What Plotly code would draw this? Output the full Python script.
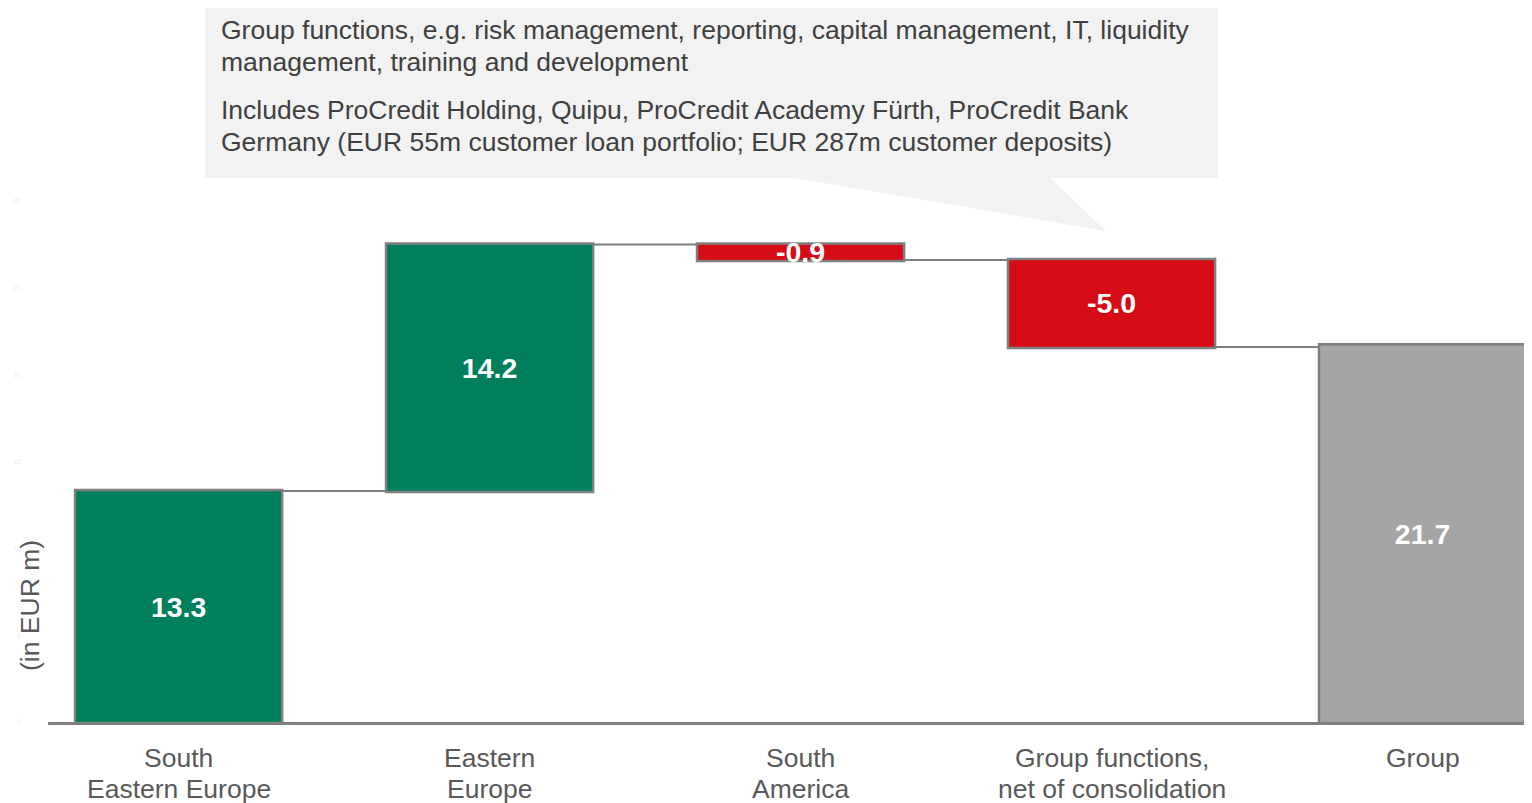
import plotly.graph_objects as go

categories = [["South", "Eastern Europe"], ["Eastern", "Europe"], ["South", "America"],
              ["Group functions,", "net of consolidation"], ["Group"]]
values = [13.3, 14.2, -0.9, -5.0, 21.7]
measures = ["relative", "relative", "relative", "relative", "absolute"]
labels = ["13.3", "14.2", "-0.9", "-5.0", "21.7"]
y_ticks = [0, 5, 10, 15, 20, 25, 30]

callout_lines = [
    "Group functions, e.g. risk management, reporting, capital management, IT, liquidity",
    "management, training and development",
    "Includes ProCredit Holding, Quipu, ProCredit Academy Fürth, ProCredit Bank",
    "Germany (EUR 55m customer loan portfolio; EUR 287m customer deposits)",
]
callout_line_y = [30, 62, 110, 142]
category_line_y = [758, 789]

# the page body adds an 8px margin around the figure; work in page pixels
OFF = 8
W, H = 1532, 803
PLOT_L, PLOT_R, PLOT_T, PLOT_B = 48, 1532, 201, 722   # page coords of plot area
L = PLOT_L - OFF
T = PLOT_T - OFF
R = W - (PLOT_R - OFF)
B = H - (PLOT_B - OFF)
PW, PH = PLOT_R - PLOT_L, PLOT_B - PLOT_T

def px(x):
    return (x - PLOT_L) / PW

def py(y):
    return (PLOT_B - y) / PH

FONT = "Liberation Sans, Arial, sans-serif"
FS = 26.5
OUTLINE = "#7f7f7f"

x_idx = list(range(len(values)))

fig = go.Figure()
fig.add_trace(go.Waterfall(
    x=x_idx,
    y=values,
    measure=measures,
    text=labels,
    textposition="inside",
    insidetextanchor="middle",
    constraintext="none",
    textfont=dict(family=FONT, size=28.5, color="white", weight="bold"),
    increasing=dict(marker=dict(color="#007f5c", line=dict(color=OUTLINE, width=2.5))),
    decreasing=dict(marker=dict(color="#d50c15", line=dict(color=OUTLINE, width=2.5))),
    totals=dict(marker=dict(color="#a5a5a5", line=dict(color=OUTLINE, width=2.5))),
    connector=dict(mode="between", line=dict(color=OUTLINE, width=2)),
    hoverinfo="skip",
))

# callout box with pointer
box = dict(x0=205, x1=1218, y0=5, y1=178)
path = (f"M {px(box['x0'])},{py(box['y0'])} L {px(box['x1'])},{py(box['y0'])} "
        f"L {px(box['x1'])},{py(box['y1'])} L {px(1050)},{py(box['y1'])} "
        f"L {px(1106)},{py(231)} L {px(795)},{py(box['y1'])} "
        f"L {px(box['x0'])},{py(box['y1'])} Z")
fig.add_shape(type="path", path=path, xref="paper", yref="paper",
              fillcolor="#f2f2f2", line=dict(width=0), layer="below")

for line, ly in zip(callout_lines, callout_line_y):
    fig.add_annotation(x=px(219), y=py(ly), xref="paper", yref="paper",
                       xanchor="left", yanchor="middle", align="left", showarrow=False,
                       text=line, font=dict(family=FONT, size=FS, color="#404040"))

# category labels (two lines each, below the axis)
for xi, cat in zip(x_idx, categories):
    for line, ly in zip(cat, category_line_y):
        fig.add_annotation(x=xi, y=py(ly), xref="x", yref="paper",
                           xanchor="center", yanchor="middle", showarrow=False,
                           text=line, font=dict(family=FONT, size=FS, color="#595959"))

fig.add_annotation(x=px(30), y=py(606), xref="paper", yref="paper",
                   xanchor="center", yanchor="middle",
                   textangle=-90, showarrow=False, text="(in EUR m)",
                   font=dict(family=FONT, size=FS, color="#595959"))

fig.update_layout(
    width=W, height=H, autosize=False,
    margin=dict(l=L, r=R, t=T, b=B, pad=0),
    paper_bgcolor="white", plot_bgcolor="white",
    showlegend=False,
    waterfallgap=0.334,
    xaxis=dict(range=[-0.42, 4.352], tickvals=x_idx, showticklabels=False,
               showline=True, linecolor=OUTLINE, linewidth=3,
               showgrid=False, zeroline=False, ticks="", automargin=False),
    yaxis=dict(range=[0, 30], tickvals=y_ticks, showgrid=False, zeroline=False,
               showline=False, ticks="", ticklabelstandoff=26, automargin=False,
               tickfont=dict(family=FONT, size=7, color="#ededed")),
)

fig.write_html("out.html")
